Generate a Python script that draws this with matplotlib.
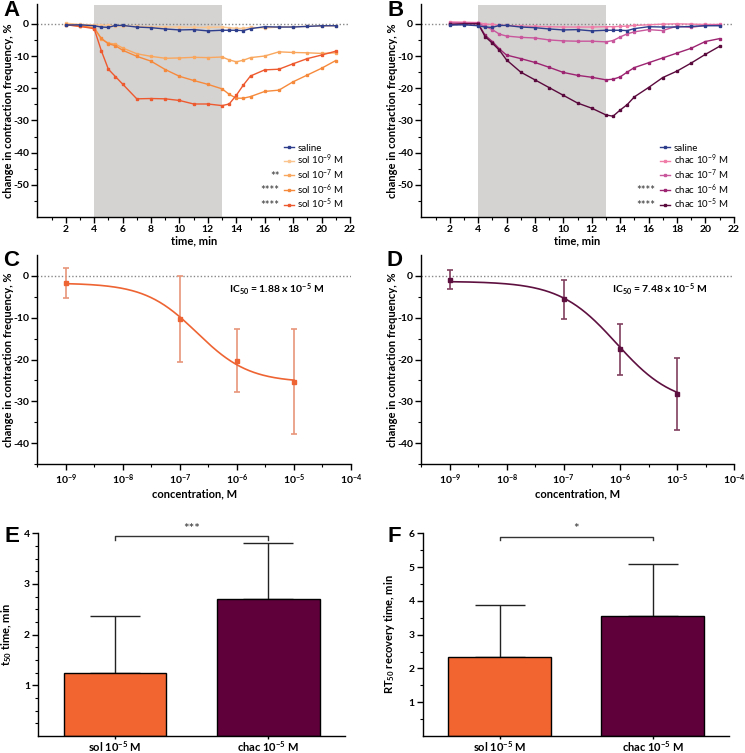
import matplotlib
matplotlib.use("Agg")
import matplotlib.pyplot as plt
import numpy as np

plt.rcParams['font.family'] = ['Lato', 'DejaVu Sans']
plt.rcParams['mathtext.default'] = 'regular'
plt.rcParams['axes.linewidth'] = 1.0
plt.rcParams['axes.unicode_minus'] = False

## time course data (change in contraction frequency, %)
time = [2, 3, 4, 4.5, 5, 5.5, 6, 7, 8, 9, 10, 11, 12, 13, 13.5, 14, 14.5, 15, 16, 17, 18, 19, 20, 21]
saline = [-0.4, -0.3, -0.6, -1.0, -1.1, -0.5, -0.5, -1.0, -1.2, -1.6, -1.9, -1.8, -2.2, -2.0, -2.0, -2.0, -2.1, -1.5, -0.9, -1.0, -1.0, -0.8, -0.6, -0.6]
sol_9 = [0.2, -0.2, -0.3, -0.4, -0.5, -0.6, -0.7, -0.8, -0.9, -1.0, -1.0, -1.1, -1.1, -1.0, -1.2, -1.4, -1.4, -1.1, -1.3, -1.0, -0.9, -0.8, -0.7, -0.6]
sol_7 = [-0.2, -0.6, -1.2, -4.8, -6.0, -6.3, -7.5, -9.3, -10.1, -10.7, -10.6, -10.4, -10.5, -10.3, -11.2, -11.8, -11.3, -10.5, -10.0, -8.7, -8.9, -9.0, -9.2, -9.0]
sol_6 = [-0.3, -0.7, -1.3, -4.5, -6.2, -6.8, -8.2, -10.1, -11.6, -14.2, -16.3, -17.6, -18.8, -20.2, -21.9, -23.1, -23.1, -22.6, -21.0, -20.6, -18.0, -15.9, -13.8, -11.4]
sol_5 = [-0.3, -0.8, -1.5, -8.3, -14.1, -16.4, -18.7, -23.3, -23.2, -23.3, -23.8, -24.9, -24.9, -25.4, -24.9, -22.2, -19.0, -16.2, -14.3, -14.1, -12.4, -10.8, -9.7, -8.5]
chac_9 = [0.6, 0.5, 0.4, -0.1, -0.2, -0.4, -0.5, -0.7, -0.8, -0.9, -1.0, -1.0, -1.0, -0.9, -0.9, -0.8, -0.7, -0.5, -0.3, -0.1, 0.0, -0.1, -0.2, -0.2]
chac_7 = [0.3, 0.3, 0.2, -0.8, -1.8, -3.2, -3.8, -4.2, -4.4, -5.0, -5.3, -5.4, -5.4, -5.6, -5.2, -4.1, -3.1, -2.5, -1.8, -2.1, -0.7, -1.1, -0.5, -0.3]
chac_6 = [-0.2, 0.0, 0.1, -3.6, -5.5, -7.8, -9.7, -10.8, -12.0, -13.5, -15.1, -16.0, -16.6, -17.4, -17.2, -16.5, -15.0, -13.6, -12.1, -10.6, -9.1, -7.6, -5.5, -4.6]
chac_5 = [-0.2, 0.0, 0.0, -4.0, -6.0, -8.2, -11.2, -15.0, -17.4, -19.8, -22.2, -24.6, -26.2, -28.3, -28.7, -26.8, -25.1, -22.7, -19.8, -16.7, -14.7, -12.2, -9.5, -7.0]
drug_on, drug_off = 4, 13

## concentration-response data
conc = [1e-9, 1e-7, 1e-6, 1e-5]
sol_mean = [-1.7, -10.3, -20.3, -25.3]
sol_sd = [3.6, 10.3, 7.5, 12.5]
chac_mean = [-0.9, -5.6, -17.6, -28.3]
chac_sd = [2.3, 4.6, 6.0, 8.6]
# fitted logistic: top, bottom, log mid, hill
sol_fit = [-1.7, -25.5, -6.7, 0.95]
chac_fit = [-1.3, -31.0, -6.07, 0.87]

## bar data
groups = ['sol 10$^{-5}$ M', 'chac 10$^{-5}$ M']
t50 = [1.25, 2.71]
t50_err = [1.12, 1.10]
rt50 = [2.33, 3.56]
rt50_err = [1.55, 1.54]

c_saline = '#2E3E8C'
sol_cols = ['#FBC590', '#F9A75E', '#F68A3C', '#EE5A2F']
chac_cols = ['#F07CA8', '#C8579C', '#9C2471', '#5A0A3D']
bar_cols = ['#F26531', '#5F003B']

W, H = 745, 753
fig = plt.figure(figsize=(W / 100, H / 100), dpi=100)


def ax_px(l, t, r, b):
    return fig.add_axes([l / W, 1 - b / H, (r - l) / W, (b - t) / H])


def style(ax):
    for s in ['top', 'right']:
        ax.spines[s].set_visible(False)
    ax.tick_params(which='major', direction='out', length=4, width=1, labelsize=7.5, pad=2)
    ax.tick_params(which='minor', direction='out', length=2.5, width=0.8)
    for lab in ax.get_xticklabels() + ax.get_yticklabels():
        lab.set_fontweight('bold')


def time_panel(ax, series, labels, colors, stars):
    ax.axvspan(drug_on, drug_off, color='#D5D2D2', lw=0, zorder=0)
    ax.axhline(0, color='#888888', ls=(0, (1, 1.5)), lw=1, zorder=1)
    ax.plot(time, saline, color=c_saline, marker='s', ms=1.7, lw=1, label='saline', zorder=3)
    for y, lab, c in zip(series, labels, colors):
        ax.plot(time, y, color=c, marker='s', ms=1.7, lw=1, label=lab, zorder=2)
    ax.set_xlim(0, 22)
    ax.set_ylim(-60, 6)
    ax.set_xticks(range(2, 23, 2))
    ax.set_xticks(range(1, 22, 2), minor=True)
    ax.set_yticks([0, -10, -20, -30, -40, -50])
    ax.set_yticks([-5, -15, -25, -35, -45, -55], minor=True)
    ax.set_xlabel('time, min', fontsize=8, fontweight='bold', labelpad=1)
    ax.set_ylabel('change in contraction frequency, %', fontsize=8, fontweight='bold')
    ax.yaxis.set_label_coords(-0.075, 0.5)
    style(ax)
    leg = ax.legend(loc='lower right', bbox_to_anchor=(1.0, 0.0), frameon=False, fontsize=7,
                    handlelength=1.0, handletextpad=0.4, labelspacing=0.0, borderaxespad=0.2)
    fig.canvas.draw()
    r = fig.canvas.get_renderer()
    inv = ax.transAxes.inverted()
    for txt, hd, st in zip(leg.get_texts(), leg.legend_handles, stars):
        if not st:
            continue
        bb = txt.get_window_extent(r)
        hb = hd.get_window_extent(r)
        xs, yc = inv.transform((hb.x0 - 3, (bb.y0 + bb.y1) / 2))
        ax.text(xs, yc - 0.008, st, transform=ax.transAxes, ha='right', va='center',
                fontsize=8, color='#333333')


axA = ax_px(37.3, 4.5, 350, 217)
time_panel(axA, [sol_9, sol_7, sol_6, sol_5],
           ['sol 10$^{-9}$ M', 'sol 10$^{-7}$ M', 'sol 10$^{-6}$ M', 'sol 10$^{-5}$ M'],
           sol_cols, ['', '', '**', '****', '****'])

axB = ax_px(421.3, 4.5, 733.7, 217)
time_panel(axB, [chac_9, chac_7, chac_6, chac_5],
           ['chac 10$^{-9}$ M', 'chac 10$^{-7}$ M', 'chac 10$^{-6}$ M', 'chac 10$^{-5}$ M'],
           chac_cols, ['', '', '', '****', '****'])


def conc_panel(ax, mean, sd, fit, col, ecol, ic50):
    ax.axhline(0, color='#888888', ls=(0, (1, 1.5)), lw=1, zorder=1)
    top, bot, lm, h = fit
    xx = np.logspace(-9, -5, 200)
    ax.plot(xx, bot + (top - bot) / (1 + 10 ** ((np.log10(xx) - lm) * h)), color=col, lw=1.2, zorder=3)
    ax.errorbar(conc, mean, yerr=sd, fmt='s', ms=2.2, color=col, ecolor=ecol, elinewidth=1.2,
                capsize=2.5, capthick=1.2, zorder=2)
    ax.set_xscale('log')
    ax.set_xlim(10 ** -9.5, 1e-4)
    ax.set_ylim(-45, 5)
    ax.set_xticks([1e-9, 1e-8, 1e-7, 1e-6, 1e-5, 1e-4])
    ax.set_xticklabels(['10$^{-9}$', '10$^{-8}$', '10$^{-7}$', '10$^{-6}$', '10$^{-5}$', '10$^{-4}$'])
    ax.set_xticks([10 ** p for p in np.arange(-9.5, -4, 1.0)], minor=True)
    ax.xaxis.set_minor_formatter(matplotlib.ticker.NullFormatter())
    ax.set_yticks([0, -10, -20, -30, -40])
    ax.set_yticks([-5, -15, -25, -35, -45], minor=True)
    ax.set_xlabel('concentration, M', fontsize=8, fontweight='bold', labelpad=1)
    ax.set_ylabel('change in contraction frequency, %', fontsize=8, fontweight='bold')
    ax.yaxis.set_label_coords(-0.075, 0.5)
    style(ax)
    ax.text(0.61, 0.835, ic50, transform=ax.transAxes, fontsize=7.5, fontweight='bold', va='center')


axC = ax_px(37.3, 255, 351, 464)
conc_panel(axC, sol_mean, sol_sd, sol_fit, '#EE6433', '#E9967A', 'IC$_{50}$ = 1.88 x 10$^{-5}$ M')
axD = ax_px(421.3, 255, 734.3, 464)
conc_panel(axD, chac_mean, chac_sd, chac_fit, '#5E1040', '#804060', 'IC$_{50}$ = 7.48 x 10$^{-5}$ M')


def bar_panel(ax, vals, errs, ylabel, ytop, minor_step, sig, br_y, br_drop, lab_x):
    x = np.arange(len(vals))
    ax.bar(x, vals, width=0.67, color=bar_cols, edgecolor='black', linewidth=1, zorder=2)
    ax.errorbar(x, vals, yerr=[[0] * len(vals), errs], fmt='none', ecolor='#222222',
                elinewidth=1, capsize=18, capthick=1, zorder=1)
    ax.set_xlim(-0.5, 1.5)
    ax.set_ylim(0, ytop)
    ax.set_xticks(x)
    ax.set_xticklabels(groups)
    ax.set_yticks(range(1, ytop + 1))
    ax.set_yticks(np.arange(minor_step, ytop, minor_step), minor=True)
    ax.set_ylabel(ylabel, fontsize=8, fontweight='bold')
    ax.yaxis.set_label_coords(lab_x, 0.5)
    style(ax)
    ax.tick_params(axis='x', which='major', length=2.5, pad=0, labelsize=8)
    ax.plot([0, 0, 1, 1], [br_y - br_drop, br_y, br_y, br_y - br_drop], color='#333333', lw=1,
            clip_on=False)
    ax.text(0.5, br_y + br_drop * 0.4, sig, ha='center', va='bottom', fontsize=9.5, color='#333333')


axE = ax_px(38.3, 533.3, 345, 736)
bar_panel(axE, t50, t50_err, 't$_{50}$ time, min', 4, 0.25, '***', 3.94, 0.07, -0.08)
axF = ax_px(423, 533.3, 729.3, 736)
bar_panel(axF, rt50, rt50_err, 'RT$_{50}$ recovery time, min', 6, 0.5, '*', 5.9, 0.1, -0.085)

for lab, x, y in [('A', 3, 0), ('B', 388, 0), ('C', 3, 250), ('D', 387, 250), ('E', 5, 526), ('F', 388, 526)]:
    fig.text(x / W, 1 - y / H, lab, fontsize=16, fontweight='bold', family='Liberation Sans',
             ha='left', va='top')

fig.savefig('out.png', dpi=100)
